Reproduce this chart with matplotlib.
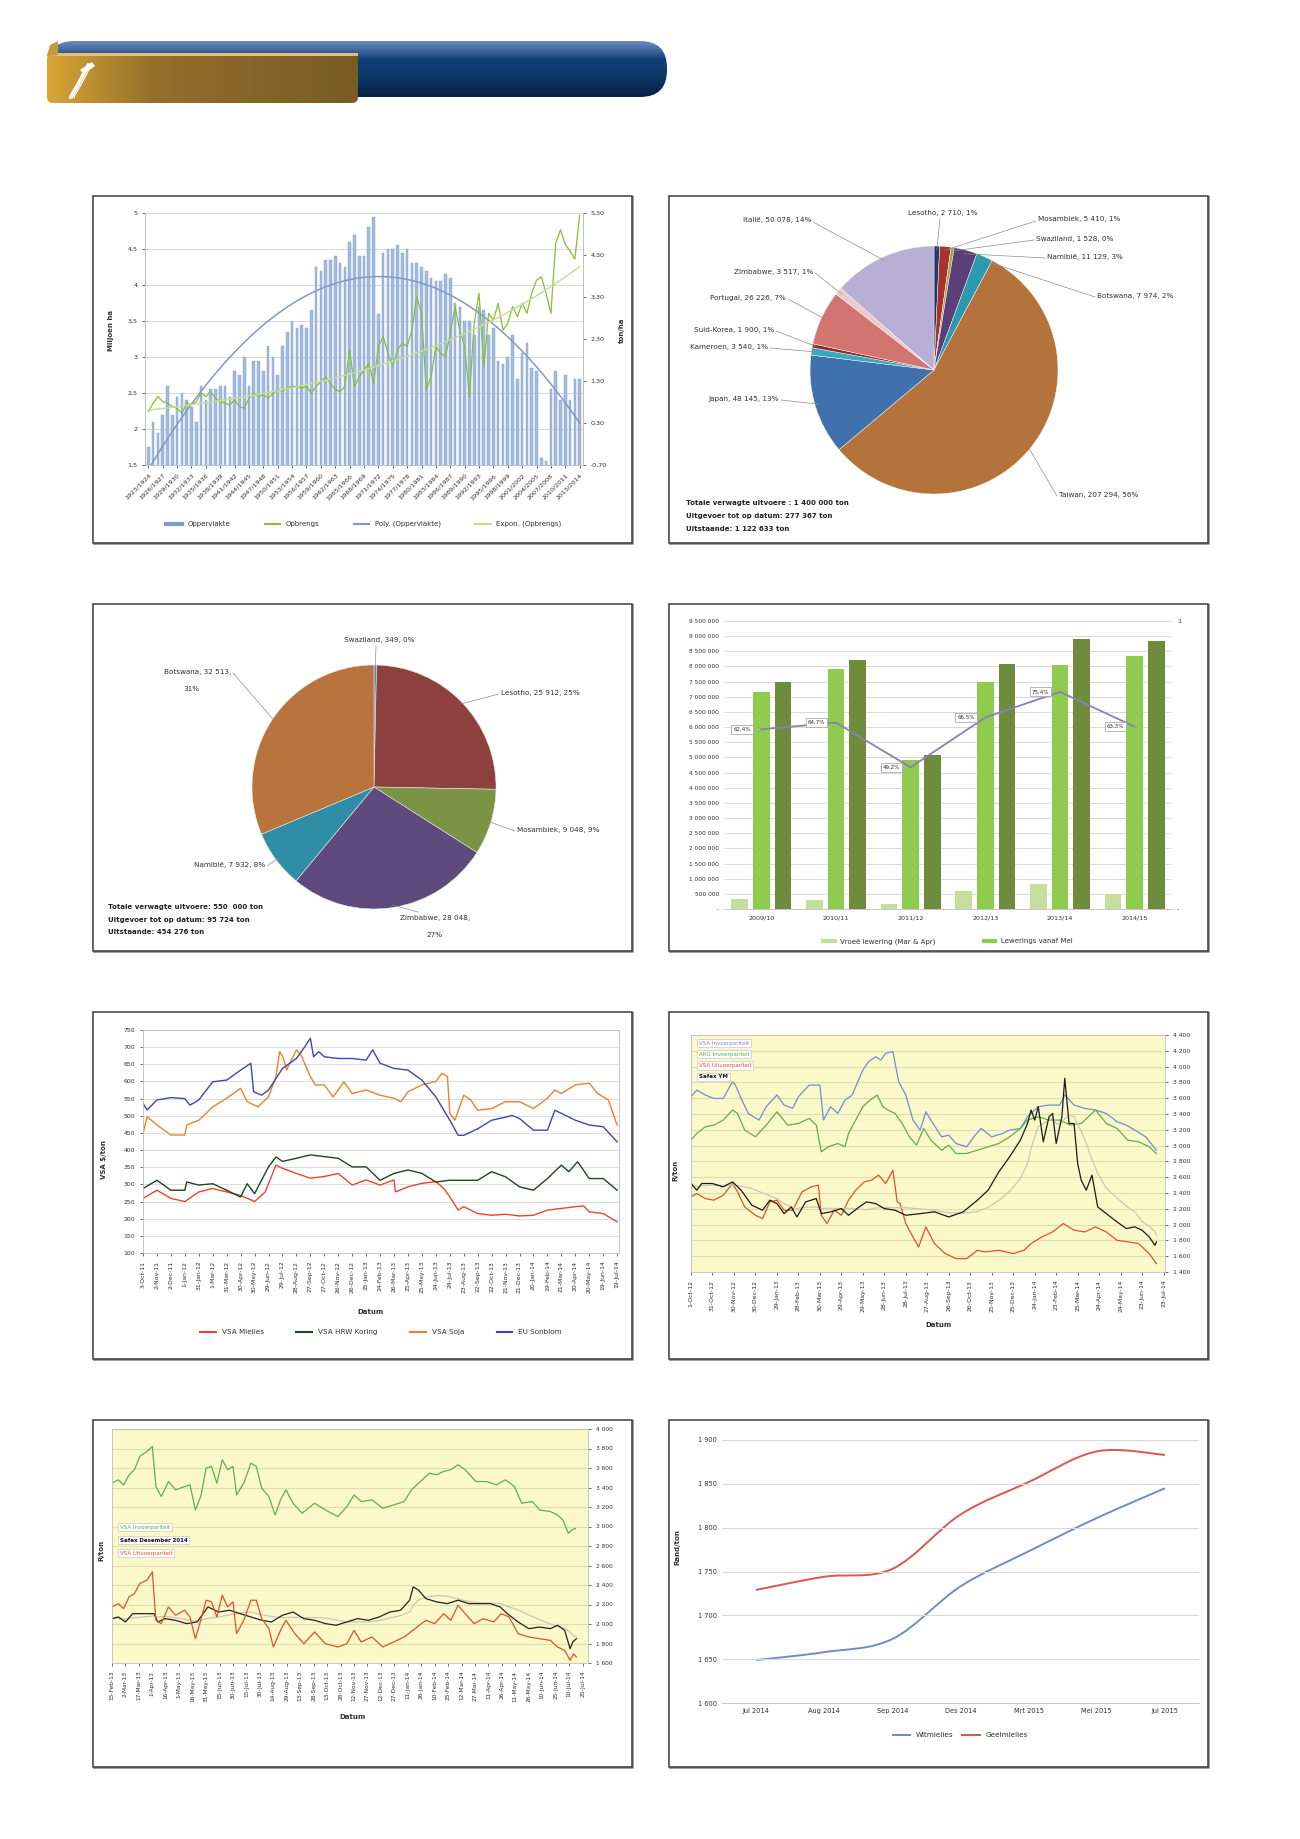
import numpy as np
import pandas as pd
import matplotlib
matplotlib.use('Agg')
import matplotlib.pyplot as plt
from matplotlib.patches import Rectangle, FancyBboxPatch, PathPatch, Polygon
from matplotlib.path import Path
from matplotlib.lines import Line2D
from matplotlib.colors import LinearSegmentedColormap
import datetime as dt

W, H = 1300, 1839
plt.rcParams['font.family'] = ['DejaVu Sans']

# ---------------- data ----------------
# chart 1: area (million ha) and yield (t/ha) per season
area_years = list(range(1923, 2014))
area = [1.75, 2.1, 1.95, 2.2, 2.6, 2.2, 2.45, 2.5, 2.4, 2.3,
        2.1, 2.6, 2.4, 2.55, 2.55, 2.6, 2.6, 2.45, 2.8, 2.75,
        3.0, 2.6, 2.95, 2.95, 2.8, 3.15, 3.0, 2.75, 3.15, 3.35,
        3.5, 3.4, 3.45, 3.4, 3.65, 4.25, 4.2, 4.35, 4.35, 4.4,
        4.3, 4.25, 4.6, 4.7, 4.4, 4.4, 4.8, 4.95, 3.6, 4.45,
        4.5, 4.5, 4.55, 4.45, 4.5, 4.3, 4.3, 4.25, 4.2, 4.1,
        4.05, 4.05, 4.15, 4.1, 3.75, 3.7, 3.5, 3.5, 3.3, 3.7,
        3.65, 3.3, 3.4, 2.95, 2.9, 3.0, 3.3, 2.7, 3.05, 3.2,
        2.85, 2.8, 1.6, 1.55, 2.55, 2.8, 2.4, 2.75, 2.4, 2.7,
        2.7]
yield_tha = [0.57, 0.77, 0.93, 0.81, 0.77, 0.69, 0.65, 0.53, 0.77, 0.73,
             0.81, 1.01, 0.93, 1.05, 0.89, 0.81, 0.77, 0.73, 0.85, 0.69,
             0.65, 0.89, 1.01, 0.93, 0.97, 0.89, 1.01, 1.09, 1.05, 1.13,
             1.17, 1.17, 1.13, 1.17, 1.01, 1.17, 1.28, 1.40, 1.24, 1.09,
             1.05, 1.17, 2.04, 1.17, 1.40, 1.56, 1.72, 1.24, 2.12, 2.36,
             1.96, 1.64, 2.04, 2.20, 2.12, 2.51, 3.31, 2.91, 1.09, 1.40,
             2.12, 1.96, 1.88, 2.43, 3.07, 2.51, 2.12, 0.93, 2.67, 3.39,
             1.64, 2.91, 2.75, 3.15, 2.51, 2.67, 3.07, 2.83, 3.15, 2.91,
             3.39, 3.70, 3.78, 3.39, 2.91, 4.58, 4.90, 4.55, 4.40, 4.20,
             5.25]

# chart 2: exports per destination
exp_countries = ['Lesotho', 'Mosambiek', 'Swaziland', 'Namibië', 'Botswana', 'Taiwan',
                 'Japan', 'Kameroen', 'Suid-Korea', 'Portugal', 'Zimbabwe', 'Italië']
exp_tons = [2710, 5410, 1528, 11129, 7974, 207294, 48145, 3540, 1900, 26226, 3517, 50078]
exp_pct = ['1%', '1%', '0%', '3%', '2%', '56%', '13%', '1%', '1%', '7%', '1%', '14%']
exp_colors = ['#1F3D6E', '#A8322D', '#A5A83A', '#5B3F7A', '#2B9AB0', '#B5733C',
              '#3F71AC', '#3AA9C0', '#8C2F2F', '#D27470', '#F0C8C8', '#B8B0D4']
exp_notes = ['Totale verwagte uitvoere : 1 400 000 ton',
             'Uitgevoer tot op datum: 277 367 ton',
             'Uitstaande: 1 122 633 ton']

# chart 3: regional exports
reg_countries = ['Swaziland', 'Lesotho', 'Mosambiek', 'Zimbabwe', 'Namibië', 'Botswana']
reg_tons = [349, 25912, 9048, 28048, 7932, 32513]
reg_pct = ['0%', '25%', '9%', '27%', '8%', '31%']
reg_colors = ['#5A7FB0', '#8E403E', '#7A9345', '#5E4A7D', '#2F8EA6', '#B8743C']
reg_notes = ['Totale verwagte uitvoere: 550  000 ton',
             'Uitgevoer tot op datum: 95 724 ton',
             'Uitstaande: 454 276 ton']

# chart 4: deliveries
seasons = ['2009/10', '2010/11', '2011/12', '2012/13', '2013/14', '2014/15']
early = [330000, 307000, 175000, 580000, 833000, 505000]
from_may = [7160000, 7930000, 4910000, 7490000, 8060000, 8340000]
total = [7490000, 8220000, 5080000, 8090000, 8890000, 8830000]
share = [0.624, 0.647, 0.492, 0.665, 0.754, 0.633]

# chart 5: US / EU prices, days after 3-Oct-11
sonblom_d = [0, 9, 30, 60, 90, 101, 120, 150, 180, 210, 232, 238, 255, 270, 300, 330, 348, 360, 367, 378,
             390, 420, 450, 480, 494, 510, 540, 570, 600, 630, 660, 678, 690, 720, 750, 780, 794, 810, 840,
             870, 886, 900, 930, 960, 990, 1020]
sonblom_v = [536, 517, 546, 553, 550, 531, 546, 599, 604, 633, 653, 570, 560, 575, 638, 667, 701, 726, 672, 687,
             672, 667, 667, 662, 692, 653, 638, 633, 604, 555, 487, 443, 443, 462, 487, 496, 501, 492, 458,
             458, 516, 507, 487, 473, 468, 424]
soja_d = [0, 9, 30, 60, 90, 94, 120, 150, 180, 210, 224, 247, 270, 286, 294, 301, 309, 330, 340, 360, 371,
          390, 409, 420, 432, 450, 480, 510, 540, 555, 570, 600, 630, 643, 655, 660, 671, 690, 705, 720, 750,
          780, 810, 840, 870, 886, 900, 930, 960, 978, 1001, 1020]
soja_v = [448, 497, 473, 444, 444, 473, 487, 526, 551, 580, 541, 526, 555, 614, 687, 672, 634, 692, 677, 614, 590,
          590, 555, 575, 599, 565, 575, 560, 551, 541, 570, 590, 600, 624, 614, 507, 487, 560, 546, 516, 521,
          541, 541, 521, 551, 575, 565, 590, 595, 565, 546, 473]
koring_d = [0, 30, 60, 90, 94, 120, 150, 180, 210, 224, 240, 270, 286, 300, 330, 360, 390, 420, 450, 480, 510,
            540, 570, 600, 630, 660, 690, 720, 750, 780, 810, 840, 870, 900, 916, 935, 960, 990, 1020]
koring_v = [288, 312, 283, 283, 307, 298, 302, 283, 263, 302, 273, 351, 380, 367, 376, 386, 381, 376, 351, 351, 312,
            332, 342, 332, 307, 312, 312, 312, 337, 322, 293, 283, 317, 356, 337, 366, 317, 317, 283]
mielies_d = [0, 30, 60, 90, 120, 150, 180, 210, 240, 263, 286, 300, 330, 360, 390, 420, 450, 480, 510, 540, 543,
             570, 600, 630, 647, 660, 678, 690, 720, 750, 780, 810, 840, 870, 900, 930, 948, 960, 990, 1020]
mielies_v = [259, 283, 259, 250, 278, 288, 278, 268, 250, 278, 356, 347, 332, 318, 323, 332, 298, 313, 298, 313, 278,
             293, 303, 308, 288, 264, 225, 235, 215, 210, 213, 208, 210, 225, 230, 235, 237, 220, 215, 191]

# chart 6: R/ton, days after 1-Oct-12
c6_blue_d = [0, 8, 20, 32, 45, 58, 62, 70, 80, 95, 105, 120, 130, 142, 150, 165, 180, 185, 195, 205, 215, 225,
             240, 248, 258, 265, 272, 282, 290, 300, 310, 320, 328, 338, 350, 360, 370, 385, 395, 405, 420, 435,
             445, 460, 470, 485, 500, 515, 522, 535, 550, 565, 580, 595, 608, 620, 635, 650]
c6_blue_v = [3618, 3703, 3640, 3597, 3597, 3808, 3766, 3597, 3407, 3323, 3492, 3640, 3513, 3471, 3618, 3766, 3766,
             3323, 3492, 3407, 3576, 3640, 3956, 4062, 4125, 4083, 4168, 4189, 3808, 3640, 3323, 3196, 3428, 3280,
             3111, 3132, 3027, 2985, 3111, 3217, 3111, 3153, 3196, 3217, 3365, 3492, 3513, 3513, 3640, 3513, 3471,
             3450, 3407, 3302, 3259, 3196, 3111, 2942]
c6_green_d = [0, 8, 20, 32, 45, 58, 65, 75, 90, 105, 120, 135, 150, 165, 175, 182, 192, 205, 215, 220, 230, 240,
              250, 260, 268, 275, 285, 295, 305, 315, 325, 335, 350, 360, 370, 385, 400, 415, 430, 445, 460, 470,
              485, 500, 515, 530, 545, 565, 580, 595, 610, 625, 640, 650]
c6_green_v = [3069, 3153, 3238, 3259, 3323, 3450, 3407, 3196, 3111, 3259, 3428, 3259, 3280, 3344, 3259, 2921, 2985,
              3027, 2985, 3153, 3323, 3492, 3576, 3640, 3492, 3450, 3407, 3280, 3111, 3006, 3217, 3069, 2942, 3006,
              2900, 2900, 2942, 2985, 3027, 3111, 3217, 3323, 3365, 3323, 3323, 3259, 3280, 3450, 3280, 3217, 3069,
              3048, 2985, 2900]
c6_red_d = [0, 8, 20, 32, 45, 58, 65, 75, 90, 100, 110, 120, 130, 142, 155, 168, 178, 182, 190, 200, 210, 220,
            230, 242, 252, 262, 272, 282, 288, 292, 300, 310, 318, 328, 340, 355, 370, 385, 400, 410, 430, 450,
            465, 475, 490, 505, 520, 535, 550, 565, 580, 595, 610, 625, 640, 650]
c6_red_v = [2351, 2393, 2330, 2309, 2372, 2520, 2414, 2224, 2118, 2076, 2287, 2309, 2182, 2182, 2414, 2478, 2499,
            2118, 2013, 2182, 2118, 2309, 2436, 2541, 2562, 2626, 2520, 2689, 2287, 2266, 2013, 1844, 1717, 1971,
            1760, 1633, 1569, 1569, 1675, 1654, 1675, 1633, 1675, 1760, 1844, 1907, 2013, 1929, 1907, 1971, 1907,
            1802, 1781, 1760, 1633, 1506]
c6_safex_d = [0, 8, 15, 30, 45, 58, 70, 85, 100, 110, 120, 130, 140, 148, 160, 175, 182, 195, 210, 220, 235, 245,
              258, 270, 285, 300, 320, 340, 360, 380, 400, 415, 430, 445, 460, 470, 475, 480, 485, 492, 500, 505,
              510, 518, 522, 528, 535, 540, 545, 552, 560, 568, 580, 595, 608, 620, 630, 640, 648, 650]
c6_safex_v = [2520, 2436, 2520, 2520, 2478, 2541, 2436, 2245, 2182, 2309, 2266, 2139, 2224, 2097, 2287, 2330, 2139,
              2161, 2203, 2118, 2224, 2287, 2266, 2203, 2182, 2118, 2139, 2161, 2097, 2161, 2309, 2436, 2668, 2858,
              3069, 3280, 3450, 3323, 3492, 3048, 3365, 3407, 3027, 3365, 3851, 3280, 3280, 2773, 2562, 2436, 2626,
              2224, 2139, 2034, 1950, 1971, 1929, 1844, 1738, 1781]
c6_labels = ['VSA Invoerpariteit', 'ARG Invoerpariteit', 'VSA Uitvoerpariteit', 'Safex YM']

# chart 7: R/ton, days after 15-Feb-13
c7_green_d = [0, 7, 13, 19, 25, 31, 39, 45, 49, 55, 63, 71, 81, 87, 93, 99, 105, 111, 117, 123, 129, 135, 139,
              147, 155, 161, 167, 175, 182, 188, 194, 202, 212, 226, 238, 252, 262, 270, 278, 290, 302, 314, 326,
              334, 344, 354, 362, 370, 378, 386, 394, 406, 418, 429, 439, 449, 457, 469, 477, 489, 497, 503, 509,
              513, 517]
c7_green_v = [3444, 3479, 3427, 3530, 3582, 3719, 3770, 3822, 3410, 3307, 3461, 3376, 3410, 3427, 3170, 3307, 3599,
              3616, 3444, 3685, 3582, 3616, 3324, 3444, 3650, 3616, 3393, 3307, 3118, 3273, 3376, 3239, 3136, 3239,
              3170, 3101, 3204, 3324, 3256, 3273, 3187, 3221, 3256, 3376, 3461, 3547, 3530, 3565, 3582, 3633, 3582,
              3461, 3461, 3427, 3479, 3410, 3239, 3256, 3170, 3153, 3118, 3067, 2930, 2965, 2981]
c7_red_d = [0, 7, 13, 19, 25, 31, 39, 45, 49, 55, 63, 71, 81, 87, 93, 99, 105, 111, 117, 123, 129, 135, 139, 147,
            155, 161, 167, 175, 180, 188, 194, 204, 214, 226, 238, 252, 262, 270, 278, 290, 302, 314, 326, 338,
            350, 360, 370, 378, 386, 394, 404, 414, 426, 434, 443, 453, 465, 477, 489, 497, 505, 511, 515, 518]
c7_red_v = [2175, 2209, 2158, 2278, 2312, 2415, 2449, 2535, 2038, 2004, 2175, 2089, 2141, 2072, 1849, 2038, 2244,
            2227, 2072, 2295, 2175, 2227, 1901, 2038, 2244, 2244, 2055, 1952, 1764, 1935, 2038, 1901, 1798, 1918,
            1798, 1764, 1798, 1935, 1815, 1867, 1764, 1815, 1867, 1952, 2038, 2004, 2106, 2038, 2192, 2106, 2004,
            2055, 2021, 2106, 2072, 1901, 1867, 1849, 1832, 1764, 1729, 1627, 1695, 1661]
c7_safex_d = [0, 7, 15, 23, 35, 47, 51, 59, 71, 83, 95, 107, 119, 131, 143, 155, 167, 178, 190, 202, 214, 226, 238,
              250, 262, 274, 286, 298, 310, 322, 332, 336, 342, 350, 362, 374, 386, 398, 410, 422, 433, 441, 453,
              465, 477, 489, 497, 505, 511, 514, 518]
c7_safex_v = [2055, 2072, 2021, 2106, 2106, 2106, 2021, 2055, 2038, 2004, 2021, 2175, 2123, 2141, 2106, 2072, 2038,
              2021, 2089, 2123, 2055, 2038, 2004, 1987, 2021, 2055, 2038, 2072, 2123, 2141, 2244, 2381, 2347, 2261,
              2227, 2209, 2244, 2209, 2209, 2209, 2175, 2106, 2021, 1952, 1969, 1952, 1987, 1935, 1747, 1815, 1849]
c7_labels = ['VSA Invoerpariteit', 'Safex Desember 2014', 'VSA Uitvoerpariteit']

# chart 8: forward prices
months8 = ['Jul 2014', 'Aug 2014', 'Sep 2014', 'Des 2014', 'Mrt 2015', 'Mei 2015', 'Jul 2015']
witmielies = [1649, 1658, 1673, 1733, 1773, 1811, 1845]
geelmielies = [1729, 1744, 1753, 1815, 1852, 1887, 1883]


# ---------------- helpers ----------------
fig = plt.figure(figsize=(13, 18.39), dpi=100)

bg = fig.add_axes([0, 0, 1, 1], zorder=-5)
bg.set_xlim(0, W)
bg.set_ylim(H, 0)
bg.axis('off')


def axrect(x0, y0, x1, y1, **kw):
    return fig.add_axes([x0 / W, 1 - y1 / H, (x1 - x0) / W, (y1 - y0) / H], **kw)


def sp(v):
    return f"{int(round(v)):,}".replace(',', ' ')


def day_label(base, n):
    d = base + dt.timedelta(days=int(n))
    return f"{d.day}-{d.strftime('%b')}-{d.strftime('%y')}"


TXT = '#303030'

# header
blue = FancyBboxPatch((47, 41), 620, 56, boxstyle='round,pad=0,rounding_size=27',
                      fc='none', ec='none')
bg.add_patch(blue)
bgrad = LinearSegmentedColormap.from_list('b', ['#6A8BC0', '#123F78', '#0C3668', '#071F40'])
im = bg.imshow(np.linspace(0, 1, 64).reshape(-1, 1), cmap=bgrad, extent=(47, 667, 97, 41),
               aspect='auto', zorder=1)
im.set_clip_path(blue)
gold = FancyBboxPatch((47, 53), 311, 50, boxstyle='round,pad=0,rounding_size=6', fc='none', ec='none')
bg.add_patch(gold)
ggrad = LinearSegmentedColormap.from_list('g', ['#D9A535', '#94702A', '#86652A', '#7A5B22'])
im2 = bg.imshow(np.linspace(0, 1, 128).reshape(1, -1), cmap=ggrad, extent=(47, 358, 103, 53),
                aspect='auto', zorder=2)
im2.set_clip_path(gold)
bg.add_patch(Rectangle((47, 53), 311, 3, fc='#E6C070', ec='none', zorder=3))
bg.add_patch(Polygon([(47, 56), (50, 45), (58, 41), (58, 55)], closed=True, fc='#C49A3A', ec='none', zorder=3))
# little white feather logo
for k in range(3):
    t = np.linspace(0, 1, 30)
    xs = 70 + k * 2 + 18 * t ** 1.4
    ys = 98 - 34 * t + 4 * np.sin(np.pi * t)
    bg.plot(xs, ys, color='white', lw=1.6 - 0.4 * k, zorder=4, solid_capstyle='round')
bg.add_patch(Polygon([(80, 70), (92, 62), (95, 66), (84, 74)], closed=True, fc='white', ec='none', zorder=4))

# frames
boxes = [(93, 196), (669, 196), (93, 604), (669, 604), (93, 1012), (669, 1012), (93, 1420), (669, 1420)]
for bx, by in boxes:
    bg.plot([bx + 540, bx + 540, bx + 1], [by + 1, by + 348, by + 348], color='#A0A0A0', lw=1.4, zorder=5)
    bg.add_patch(Rectangle((bx, by), 539, 347, fill=False, ec='#3A3A3A', lw=1.1, zorder=6))


def style_ticks(ax, size=4.8):
    ax.tick_params(labelsize=size, colors=TXT, length=2, width=0.5)
    for s in ax.spines.values():
        s.set_color('#BFBFBF')
        s.set_linewidth(0.6)


# ---------------- chart 1 ----------------
ax1 = axrect(145, 213, 583, 465)
x1 = np.arange(len(area))
ax1.bar(x1, area, width=0.55, color='#A3BBE0', edgecolor='#7E9CCB', linewidth=0.3, zorder=2)
ax1.set_xlim(-0.7, len(area) - 0.3)
ax1.set_ylim(1.5, 5)
lt = np.arange(1.5, 5.01, 0.5)
ax1.set_yticks(lt)
ax1.set_yticklabels([f"{v:g}".replace('.', ',') for v in lt])
ax1.yaxis.grid(True, color='#D9D9D9', lw=0.7)
ax1.set_axisbelow(True)
poly = np.polyfit(x1, area, 2)
ax1.plot(x1, np.polyval(poly, x1), color='#8397CA', lw=1.1, zorder=3)
ax1.set_xticks(x1[::3])
ax1.set_xticklabels([f"{y}/{y + 1}" for y in area_years[::3]], rotation=45, ha='right',
                    rotation_mode='anchor')
style_ticks(ax1, 4.6)
ax1.spines['top'].set_visible(False)
ax1.patch.set_alpha(0)
ax1b = ax1.twinx()
ax1b.set_ylim(-0.7, 5.3)
rt = np.arange(-0.7, 5.31, 1.0)
ax1b.set_yticks(rt)
ax1b.set_yticklabels([f"{v:.2f}".replace('.', ',') for v in rt])
ax1b.plot(x1, yield_tha, color='#86BE34', lw=0.9)
eb, ea = np.polyfit(x1, np.log(yield_tha), 1)
ax1b.plot(x1, np.exp(ea + eb * x1), color='#C9DE95', lw=1.1)
style_ticks(ax1b, 4.6)
ax1b.spines['top'].set_visible(False)
h1 = [Line2D([], [], color='#7E9CCB', lw=3), Line2D([], [], color='#86BE34', lw=1.5),
      Line2D([], [], color='#8397CA', lw=1.5), Line2D([], [], color='#C9DE95', lw=1.5)]
ax1.legend(h1, ['Oppervlakte', 'Opbrengs', 'Poly. (Oppervlakte)', 'Expon. (Opbrengs)'], ncol=4,
           loc='center', bbox_to_anchor=(0.5, -0.235), frameon=False, fontsize=5.0,
           columnspacing=5, handlelength=2.2, labelcolor=TXT)

# ---------------- chart 2 ----------------
cx2, cy2, r2 = 934, 370, 124
ax2 = axrect(cx2 - r2, cy2 - r2, cx2 + r2, cy2 + r2)
w2, _ = ax2.pie(exp_tons, colors=exp_colors, startangle=90, counterclock=False,
                wedgeprops=dict(edgecolor='white', linewidth=0.3))
ax2.set_xlim(-1, 1)
ax2.set_ylim(-1, 1)
ax2.set_aspect('equal')
ax2.patch.set_alpha(0)

# ---------------- chart 3 ----------------
cx3, cy3, r3 = 374, 787, 122
ax3 = axrect(cx3 - r3, cy3 - r3, cx3 + r3, cy3 + r3)
w3, _ = ax3.pie(reg_tons, colors=reg_colors, startangle=90, counterclock=False,
                wedgeprops=dict(edgecolor='#E8E8E8', linewidth=0.4))
ax3.set_xlim(-1, 1)
ax3.set_ylim(-1, 1)
ax3.set_aspect('equal')
ax3.patch.set_alpha(0)

# ---------------- chart 4 ----------------
ax4 = axrect(724, 621, 1172, 909)
x4 = np.arange(len(seasons))
ax4.bar(x4 - 0.29, early, 0.22, color='#C6DE9C', zorder=2)
ax4.bar(x4, from_may, 0.22, color='#8FCB4F', zorder=2)
ax4.bar(x4 + 0.29, total, 0.22, color='#6F8C3C', zorder=2)
ax4.set_xlim(-0.5, len(seasons) - 0.5)
ax4.set_ylim(0, 9500000)
yt4 = np.arange(0, 9500001, 500000)
ax4.set_yticks(yt4)
ax4.set_yticklabels(['-' if v == 0 else sp(v) for v in yt4])
ax4.yaxis.grid(True, color='#D9D9D9', lw=0.7)
ax4.set_axisbelow(True)
ax4.set_xticks(x4)
ax4.set_xticklabels(seasons)
style_ticks(ax4, 4.2)
ax4.tick_params(axis='x', length=0, labelsize=4.6, pad=5)
ax4.tick_params(axis='y', length=0)
for s in ['top', 'right', 'left']:
    ax4.spines[s].set_visible(False)
ax4.patch.set_alpha(0)
ax4b = ax4.twinx()
ax4b.set_ylim(0, 1)
ax4b.set_yticks([0, 1])
ax4b.set_yticklabels(['-', '1'])
ax4b.plot(x4, share, color='#8A80B8', lw=1.3)
for i, p in enumerate(share):
    ax4b.annotate(f"{p * 100:.1f}%".replace('.', ','), (i, p), xytext=(-14, 0), textcoords='offset points',
                  ha='center', va='center', fontsize=4.0, color=TXT,
                  bbox=dict(boxstyle='square,pad=0.35', fc='white', ec='#9A9AB0', lw=0.5))
style_ticks(ax4b, 4.6)
ax4b.tick_params(length=0)
for s in ax4b.spines.values():
    s.set_visible(False)
ax4.legend([Line2D([], [], color='#C6DE9C', lw=3), Line2D([], [], color='#8FCB4F', lw=3)],
           ['Vroeë lewering (Mar & Apr)', 'Lewerings vanaf Mei'], ncol=2, loc='center',
           bbox_to_anchor=(0.5, -0.112), frameon=False, fontsize=5.0, columnspacing=7,
           handlelength=1.6, labelcolor=TXT)

# ---------------- chart 5 ----------------
ax5 = axrect(143, 1030, 619, 1253)
ax5.plot(mielies_d, mielies_v, color='#E8452C', lw=1.0)
ax5.plot(koring_d, koring_v, color='#1E4620', lw=1.0)
ax5.plot(soja_d, soja_v, color='#F0802A', lw=1.0)
ax5.plot(sonblom_d, sonblom_v, color='#3C46B4', lw=1.0)
ax5.set_xlim(0, 1024)
ax5.set_ylim(100, 750)
ax5.set_yticks(range(100, 751, 50))
base5 = dt.date(2011, 10, 3)
xt5 = list(range(0, 1021, 30))
ax5.set_xticks(xt5)
ax5.set_xticklabels([day_label(base5, t) for t in xt5], rotation=90)
ax5.yaxis.grid(True, color='#DCDCDC', lw=0.7)
style_ticks(ax5, 4.4)
ax5.legend([Line2D([], [], color=c, lw=1.5) for c in ['#E8452C', '#1E4620', '#F0802A', '#3C46B4']],
           ['VSA Mielies', 'VSA HRW Koring', 'VSA Soja', 'EU Sonblom'], ncol=4, loc='center',
           bbox_to_anchor=(0.5, -0.355), frameon=False, fontsize=5.2, columnspacing=4.5,
           handlelength=2.2, labelcolor=TXT)

# ---------------- chart 6 ----------------
YEL = '#FBF9C9'
ax6 = axrect(691, 1035, 1165, 1272, facecolor=YEL)
ax6.plot(c6_blue_d, c6_blue_v, color='#6F8FD2', lw=0.9)
ax6.plot(c6_green_d, c6_green_v, color='#5DB04E', lw=0.9)
ax6.plot(c6_red_d, c6_red_v, color='#E4502C', lw=0.9)
ma6 = pd.Series(c6_safex_v).rolling(6, min_periods=1).mean()
ax6.plot(c6_safex_d, ma6, color='#C8C8B8', lw=0.9)
ax6.plot(c6_safex_d, c6_safex_v, color='#1A1A1A', lw=0.9)
ax6.set_xlim(0, 662)
ax6.set_ylim(1400, 4400)
yt6 = list(range(1400, 4401, 200))
ax6.yaxis.tick_right()
ax6.set_yticks(yt6)
ax6.set_yticklabels([sp(v) for v in yt6])
base6 = dt.date(2012, 10, 1)
xt6 = list(range(0, 661, 30))
ax6.set_xticks(xt6)
ax6.set_xticklabels([day_label(base6, t) for t in xt6], rotation=90)
ax6.yaxis.grid(True, color='#E0DDAE', lw=0.8)
style_ticks(ax6, 4.4)

# ---------------- chart 7 ----------------
ax7 = axrect(112, 1429, 588, 1663, facecolor=YEL)
ax7.plot(c7_green_d, c7_green_v, color='#5DB04E', lw=0.9)
ma7 = pd.Series(c7_safex_v).rolling(5, min_periods=1).mean()
ax7.plot(c7_safex_d, ma7, color='#C8C8B8', lw=0.9)
ax7.plot(c7_safex_d, c7_safex_v, color='#222222', lw=0.9)
ax7.plot(c7_red_d, c7_red_v, color='#E4502C', lw=0.9)
ax7.set_xlim(0, 531)
ax7.set_ylim(1600, 4000)
yt7 = list(range(1600, 4001, 200))
ax7.yaxis.tick_right()
ax7.set_yticks(yt7)
ax7.set_yticklabels([sp(v) for v in yt7])
base7 = dt.date(2013, 2, 15)
xt7 = list(range(0, 526, 15))
ax7.set_xticks(xt7)
ax7.set_xticklabels([day_label(base7, t) for t in xt7], rotation=90)
ax7.yaxis.grid(True, color='#E0DDAE', lw=0.8)
style_ticks(ax7, 4.2)


# ---------------- chart 8 ----------------
def smooth_path(xs, ys):
    pts = np.column_stack([xs, ys]).astype(float)
    verts = [pts[0]]
    codes = [Path.MOVETO]
    n = len(pts)
    for i in range(n - 1):
        p0 = pts[i - 1] if i > 0 else pts[i]
        p1, p2 = pts[i], pts[i + 1]
        p3 = pts[i + 2] if i + 2 < n else pts[i + 1]
        verts += [p1 + (p2 - p0) / 6, p2 - (p3 - p1) / 6, p2]
        codes += [Path.CURVE4] * 3
    return Path(verts, codes)


ax8 = axrect(722, 1440, 1199, 1703)
x8 = np.arange(len(months8))
ax8.add_patch(PathPatch(smooth_path(x8, witmielies), fill=False, ec='#6E8CC8', lw=1.4))
ax8.add_patch(PathPatch(smooth_path(x8, geelmielies), fill=False, ec='#D9574F', lw=1.4))
ax8.set_xlim(-0.5, len(months8) - 0.5)
ax8.set_ylim(1600, 1900)
ax8.set_yticks(range(1600, 1901, 50))
ax8.set_yticklabels([sp(v) for v in range(1600, 1901, 50)])
ax8.set_xticks(x8)
ax8.set_xticklabels(months8)
ax8.yaxis.grid(True, color='#D9D9D9', lw=0.8)
style_ticks(ax8, 4.8)
ax8.tick_params(length=0)
for s in ['top', 'right', 'left']:
    ax8.spines[s].set_visible(False)
ax8.legend([Line2D([], [], color='#6E8CC8', lw=1.5), Line2D([], [], color='#D9574F', lw=1.5)],
           ['Witmielies', 'Geelmielies'], ncol=2, loc='center', bbox_to_anchor=(0.5, -0.122),
           frameon=False, fontsize=5.2, columnspacing=1.2, handlelength=2.4, labelcolor=TXT)

# ---------------- overlay texts ----------------
ov = fig.add_axes([0, 0, 1, 1], zorder=20)
ov.set_xlim(0, W)
ov.set_ylim(H, 0)
ov.axis('off')
ov.patch.set_alpha(0)


def otext(x, y, s, size=5.4, **kw):
    kw.setdefault('color', TXT)
    kw.setdefault('va', 'center')
    ov.text(x, y, s, fontsize=size, **kw)


def leader(wedge, cx, cy, r, x, y, out=1.0):
    a = np.deg2rad((wedge.theta1 + wedge.theta2) / 2)
    ov.plot([x, cx + r * out * np.cos(a)], [y, cy - r * out * np.sin(a)], color='#8C8C8C', lw=0.5)


# axis titles
otext(111, 330, 'Miljoen ha', 5.0, rotation=90, ha='center', weight='bold')
otext(622, 330, 'ton/ha', 5.0, rotation=90, ha='center', weight='bold')
otext(104, 1160, 'VSA $/ton', 5.0, rotation=90, ha='center', weight='bold')
otext(370, 1312, 'Datum', 5.0, ha='center', weight='bold')
otext(675, 1170, 'R/ton', 5.0, rotation=90, ha='center', weight='bold')
otext(938, 1325, 'Datum', 5.0, ha='center', weight='bold')
otext(101, 1550, 'R/ton', 5.0, rotation=90, ha='center', weight='bold')
otext(352, 1717, 'Datum', 5.0, ha='center', weight='bold')
otext(677, 1547, 'Rand/ton', 5.0, rotation=90, ha='center', weight='bold')

# chart 2 labels: (x, y, ha, line start x, y)
lab2 = {
    'Lesotho': (943, 213, 'center', 940, 219),
    'Mosambiek': (1038, 219, 'left', 1036, 221),
    'Swaziland': (1036, 239, 'left', 1034, 240),
    'Namibië': (1047, 257, 'left', 1045, 258),
    'Botswana': (1097, 296, 'left', 1095, 297),
    'Taiwan': (1059, 495, 'left', 1057, 496),
    'Japan': (779, 399, 'right', 781, 400),
    'Kameroen': (768, 347, 'right', 770, 348),
    'Suid-Korea': (774, 330, 'right', 776, 331),
    'Portugal': (786, 298, 'right', 788, 299),
    'Zimbabwe': (813, 272, 'right', 815, 273),
    'Italië': (811, 220, 'right', 813, 222),
}
for w, name, t, p in zip(w2, exp_countries, exp_tons, exp_pct):
    x, y, ha, lx, ly = lab2[name]
    otext(x, y, f"{name}, {sp(t)}, {p}", 5.2, ha=ha)
    leader(w, cx2, cy2, r2, lx, ly, 0.97)
for i, s in enumerate(exp_notes):
    otext(686, 503 + 13 * i, s, 5.0, weight='bold', color='#202020')

# chart 3 labels
lab3 = {
    'Swaziland': (379, 640, 'center', 376, 646),
    'Lesotho': (501, 693, 'left', 499, 694),
    'Mosambiek': (517, 830, 'left', 515, 831),
    'Zimbabwe': (435, 918, 'center', 418, 912),
    'Namibië': (265, 865, 'right', 267, 866),
    'Botswana': (231, 672, 'right', 233, 673),
}
for w, name, t, p in zip(w3, reg_countries, reg_tons, reg_pct):
    x, y, ha, lx, ly = lab3[name]
    if name in ('Zimbabwe', 'Botswana'):
        otext(x, y, f"{name}, {sp(t)},", 5.2, ha=ha)
        otext(x - (0 if ha == 'center' else 40), y + 17, p, 5.2, ha='center')
    else:
        otext(x, y, f"{name}, {sp(t)}, {p}", 5.2, ha=ha)
    leader(w, cx3, cy3, r3, lx, ly, 0.98)
for i, s in enumerate(reg_notes):
    otext(108, 907 + 12.5 * i, s, 5.0, weight='bold', color='#202020')

# chart 6 legend boxes
c6_cols = ['#6F8FD2', '#5DB04E', '#E4502C', '#111111']
for i, (s, c) in enumerate(zip(c6_labels, c6_cols)):
    otext(699, 1043 + 11.3 * i, s, 4.0, ha='left', color=c, weight='bold' if i == 3 else 'normal',
          bbox=dict(boxstyle='square,pad=0.3', fc='white', ec='#C8C8C8', lw=0.5))
# chart 7 legend boxes
c7_cols = ['#5DB04E', '#111111', '#E4502C']
for i, (s, c) in enumerate(zip(c7_labels, c7_cols)):
    otext(120, 1527 + 13 * i, s, 4.0, ha='left', color=c, weight='bold' if i == 1 else 'normal',
          bbox=dict(boxstyle='square,pad=0.3', fc='white', ec='#C8C8C8', lw=0.5))

fig.savefig('out.png', dpi=100)
